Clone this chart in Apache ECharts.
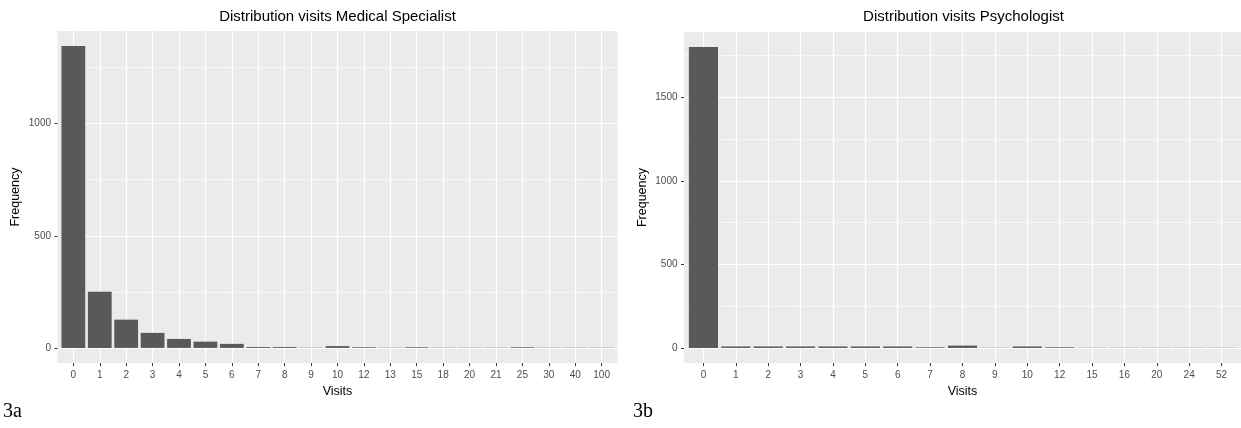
<!DOCTYPE html>
<html><head><meta charset="utf-8">
<script src="https://cdn.jsdelivr.net/npm/echarts@6/dist/echarts.min.js"></script>
<style>html,body{margin:0;padding:0;background:#fff}#c{width:1241px;height:428px}</style>
</head><body><div id="c"></div>
<script>
// ---- data ----
const medCategories = ['0','1','2','3','4','5','6','7','8','9','10','12','13','15','18','20','21','25','30','40','100'];
const medValues     = [1346, 250, 126, 67, 40, 28, 18, 4, 4, 1, 8, 3, 1, 3, 1, 1, 1, 3, 1, 1, 1];
const medYTicks     = [0, 500, 1000];

const psyCategories = ['0','1','2','3','4','5','6','7','8','9','10','12','15','16','20','24','52'];
const psyValues     = [1800, 9, 9, 9, 9, 9, 9, 4, 14, 1, 9, 4, 1, 1, 1, 1, 1];
const psyYTicks     = [0, 500, 1000, 1500];

const chartTitles = ['Distribution visits Medical Specialist', 'Distribution visits Psychologist'];
const panelTags   = ['3a', '3b'];
const xTitle = 'Visits';
const yTitle = 'Frequency';

// ---- layout / style ----
const SANS = '"Liberation Sans", Arial, sans-serif';
const SERIF = '"Liberation Serif", "Times New Roman", serif';
const grids = [
  {left: 57.5, top: 31, width: 560, height: 332},
  {left: 684, top: 32, width: 559, height: 331}
];
const panels = [
  {cats: medCategories, vals: medValues, ticks: medYTicks},
  {cats: psyCategories, vals: psyValues, ticks: psyYTicks}
];

const option = {
  animation: false,
  backgroundColor: '#ffffff',
  title: [],
  grid: [],
  xAxis: [],
  yAxis: [],
  series: []
};

panels.forEach((p, i) => {
  const g = grids[i];
  const maxV = Math.max.apply(null, p.vals);
  const idx = p.cats.map((c, k) => k);
  option.grid.push({left: g.left, top: g.top, width: g.width, height: g.height,
    show: true, backgroundColor: '#EBEBEB', borderWidth: 0, containLabel: false});
  option.title.push({text: chartTitles[i], left: g.left + g.width / 2, top: 9, textAlign: 'center', padding: 0,
    textStyle: {fontFamily: SANS, fontSize: 15, fontWeight: 'normal', color: '#000'}});
  option.xAxis.push({
    type: 'value', gridIndex: i, min: -0.6, max: p.cats.length - 0.4,
    name: xTitle, nameLocation: 'middle', nameGap: 21,
    nameTextStyle: {fontFamily: SANS, fontSize: 12.5, color: '#000'},
    axisLine: {show: false, onZero: false},
    axisTick: {show: true, customValues: idx, length: 3, lineStyle: {color: '#333333', width: 1}},
    axisLabel: {customValues: idx, formatter: v => p.cats[Math.round(v)], color: '#4D4D4D',
      fontFamily: SANS, fontSize: 10, margin: 7},
    splitLine: {show: true, lineStyle: {color: '#ffffff', width: 1.2}},
    minorSplitLine: {show: false}
  });
  option.yAxis.push({
    type: 'value', gridIndex: i, min: -0.05 * maxV, max: 1.05 * maxV, splitNumber: 3,
    name: yTitle, nameLocation: 'middle', nameGap: 35, nameRotate: 90,
    nameTextStyle: {fontFamily: SANS, fontSize: 12.5, color: '#000'},
    axisLine: {show: false, onZero: false},
    axisTick: {show: true, customValues: p.ticks, length: 3, lineStyle: {color: '#333333', width: 1}},
    axisLabel: {customValues: p.ticks, formatter: v => String(Math.round(v)), color: '#4D4D4D',
      fontFamily: SANS, fontSize: 10, margin: 6.5},
    splitLine: {show: true, lineStyle: {color: '#ffffff', width: 1.2}},
    minorTick: {show: false, splitNumber: 2},
    minorSplitLine: {show: true, lineStyle: {color: '#ffffff', width: 0.6}}
  });
  option.series.push({
    type: 'bar', xAxisIndex: i, yAxisIndex: i, silent: true,
    data: p.vals.map((v, k) => [k, v]),
    barWidth: '90%',
    itemStyle: {color: '#595959'}
  });
  option.title.push({text: panelTags[i], left: i === 0 ? 3 : 633, top: 402, padding: 0,
    textStyle: {fontFamily: SERIF, fontSize: 20, fontWeight: 'normal', color: '#000'}});
});

const chart = echarts.init(document.getElementById('c'), null, {renderer: 'canvas'});
chart.setOption(option);
</script>
</body></html>
